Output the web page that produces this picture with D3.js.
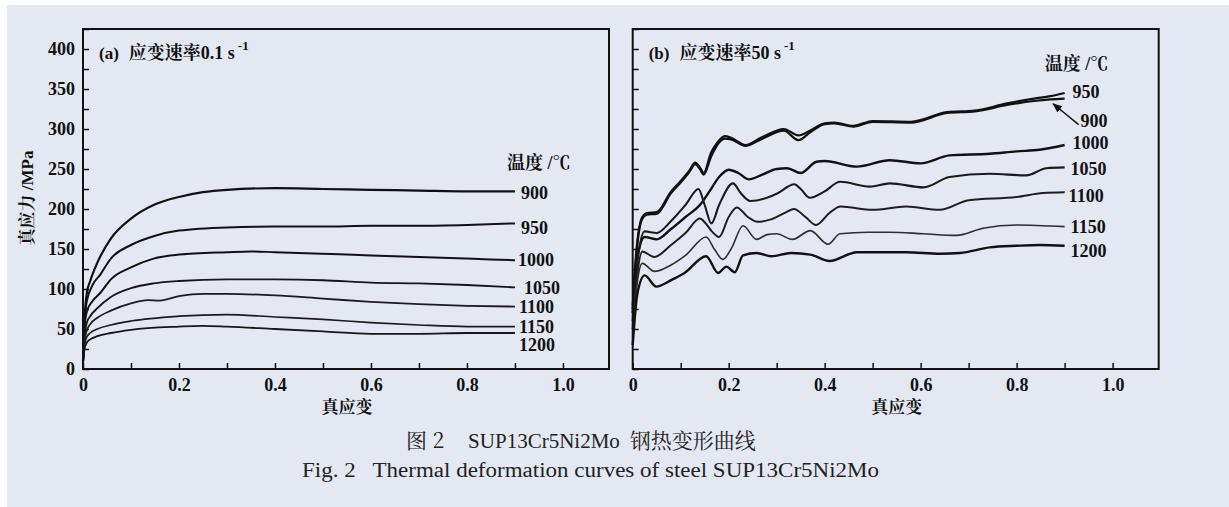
<!DOCTYPE html>
<html>
<head>
<meta charset="utf-8">
<script src="https://cdn.jsdelivr.net/npm/d3@7"></script>
<style>
  body { margin: 0; background: #fff; }
  svg { display: block; }
</style>
</head>
<body>
<svg id="chart" width="1229" height="507"></svg>
<script>
// ---- data (strain, stress MPa) ----
const temps = [900, 950, 1000, 1050, 1100, 1150, 1200]
const xTickLabels = [0, 0.2, 0.4, 0.6, 0.8, 1.0]
const yTickLabels = [0, 50, 100, 150, 200, 250, 300, 350, 400]

// (a) strain rate 0.1 s-1
const a900 = [[0,10],[0.003,60],[0.008,95],[0.015,110],[0.03,133],[0.058,163],[0.1,188],[0.147,205],[0.2,215],[0.25,221],[0.3,224],[0.4,226],[0.5,225],[0.6,224],[0.7,223],[0.8,222],[0.9,222]]
const a950 = [[0,10],[0.003,55],[0.008,85],[0.02,105],[0.036,118],[0.058,138],[0.1,155],[0.147,166],[0.2,173],[0.3,177],[0.4,178],[0.5,178],[0.6,179],[0.7,179],[0.8,180],[0.9,182]]
const a1000 = [[0,10],[0.003,50],[0.008,72],[0.02,85],[0.036,95],[0.058,112],[0.1,127],[0.147,138],[0.2,143],[0.3,146],[0.35,147],[0.4,146],[0.5,144],[0.6,142],[0.7,140],[0.8,138],[0.9,136]]
const a1050 = [[0,8],[0.003,40],[0.008,58],[0.015,66],[0.03,76],[0.058,90],[0.1,101],[0.147,107],[0.2,110],[0.3,112],[0.4,112],[0.5,111],[0.6,108],[0.7,107],[0.8,105],[0.9,102]]
const a1100 = [[0,8],[0.003,35],[0.008,48],[0.015,56],[0.03,64],[0.058,73],[0.1,82],[0.135,86],[0.16,85.5],[0.2,91],[0.25,94],[0.3,94],[0.4,92],[0.5,88],[0.6,84],[0.7,81],[0.8,79],[0.9,78]]
const a1150 = [[0,6],[0.003,30],[0.008,40],[0.015,45],[0.03,50],[0.058,55],[0.1,60],[0.2,66],[0.3,68],[0.4,65],[0.5,62],[0.6,58],[0.7,55],[0.8,53],[0.9,53]]
const a1200 = [[0,5],[0.003,25],[0.008,33],[0.015,37],[0.03,41],[0.058,45],[0.1,49],[0.2,53],[0.25,54],[0.3,53],[0.4,50],[0.5,47],[0.6,44],[0.7,44],[0.8,45],[0.9,45]]

// (b) strain rate 50 s-1
const b900 = [[0,75],[0.008,145],[0.02,188],[0.03,193],[0.05,194],[0.08,220],[0.1,233],[0.118,246],[0.13,256],[0.14,250],[0.148,243],[0.163,265],[0.175,279],[0.192,288],[0.205,287],[0.235,279],[0.267,287],[0.315,298],[0.345,286],[0.37,296],[0.4,306],[0.42,307],[0.46,303],[0.5,309],[0.58,308],[0.655,320],[0.713,322],[0.78,330],[0.836,335],[0.87,337],[0.9,338]]
const b950 = [[0,80],[0.008,150],[0.02,190],[0.03,195],[0.05,196],[0.08,222],[0.1,235],[0.118,248],[0.13,258],[0.14,252],[0.148,245],[0.163,270],[0.175,282],[0.192,291],[0.205,289],[0.235,280],[0.267,289],[0.315,300],[0.345,292],[0.37,298],[0.4,307],[0.42,308],[0.46,304],[0.5,310],[0.58,309],[0.655,321],[0.713,323],[0.78,332],[0.836,338],[0.87,341],[0.9,345]]
const b1000 = [[0,70],[0.01,140],[0.025,165],[0.05,162],[0.08,175],[0.11,190],[0.14,205],[0.16,222],[0.18,240],[0.2,249],[0.22,245],[0.242,237],[0.27,243],[0.3,250],[0.322,251],[0.35,245],[0.383,259],[0.4,260],[0.467,253],[0.536,261],[0.6,257],[0.66,267],[0.744,269],[0.8,272],[0.848,274],[0.9,280]]
const b1050 = [[0,60],[0.01,135],[0.025,172],[0.05,170],[0.08,185],[0.11,205],[0.137,225],[0.15,205],[0.164,182],[0.18,205],[0.209,232],[0.225,220],[0.245,210],[0.28,214],[0.3,219],[0.337,231],[0.35,225],[0.369,214],[0.4,222],[0.432,234],[0.494,228],[0.536,232],[0.606,227],[0.66,240],[0.744,244],[0.82,242],[0.862,251],[0.9,252]]
const b1100 = [[0,50],[0.01,120],[0.02,147],[0.045,140],[0.08,155],[0.11,170],[0.14,188],[0.152,182],[0.165,172],[0.18,165],[0.2,190],[0.217,202],[0.24,190],[0.26,184],[0.288,187],[0.32,196],[0.336,200],[0.36,190],[0.382,180],[0.41,195],[0.433,203],[0.5,199],[0.57,203],[0.64,199],[0.7,211],[0.8,215],[0.855,220],[0.9,221]]
const b1150 = [[0,40],[0.01,110],[0.02,132],[0.045,122],[0.08,130],[0.11,142],[0.153,165],[0.17,150],[0.188,137],[0.205,150],[0.23,179],[0.258,162],[0.28,168],[0.3,169],[0.333,162],[0.37,173],[0.407,156],[0.432,169],[0.49,171],[0.536,171],[0.606,169],[0.675,167],[0.73,176],[0.8,180],[0.9,178]]
const b1200 = [[0,30],[0.01,95],[0.025,117],[0.049,103],[0.08,111],[0.108,120],[0.153,141],[0.178,120],[0.195,128],[0.2125,121],[0.23,142],[0.258,145],[0.289,141],[0.33,145],[0.37,143],[0.41,135],[0.467,146],[0.57,146],[0.64,144],[0.682,145],[0.744,152],[0.8,154],[0.848,155],[0.9,154]]

const seriesA = [a900, a950, a1000, a1050, a1100, a1150, a1200]
const seriesB = [b900, b950, b1000, b1050, b1100, b1150, b1200]

// ---- layout ----
let width = 526
let height = 340
let serif = '"Liberation Serif", "Times New Roman", serif'
let cjk = '"Noto Serif CJK SC", "Noto Sans CJK SC", sans-serif'

let svg = d3.select('#chart')

svg.append('rect')
  .attr('x', 7).attr('y', 5)
  .attr('width', 1229).attr('height', 507)
  .attr('fill', '#e4e8f3')

let xScale = d3.scaleLinear().domain([0, 1.096]).range([0, width])
let yScale = d3.scaleLinear().domain([0, 425]).range([height, 0])

let line = d3.line()
  .x(d => xScale(d[0]))
  .y(d => yScale(d[1]))
  .curve(d3.curveMonotoneX)

function drawPanel(g, series, opts) {
  // x axis: ticks every 0.1, labels every 0.2
  let xAxis = d3.axisBottom(xScale)
    .tickValues(d3.range(0, 11).map(i => i / 10))
    .tickSize(-6)
    .tickPadding(9)
    .tickFormat(d => {
      let i = Math.round(d * 10)
      if (i % 2) return ''
      return i === 0 ? '0' : d3.format('.1f')(d)
    })
  g.append('g')
    .attr('transform', `translate(0,${height})`)
    .call(xAxis)
    .call(a => a.select('.domain').remove())
    .selectAll('text')
    .attr('font-family', serif)
    .attr('font-weight', 'bold')
    .attr('font-size', 18)
    .attr('fill', '#111')

  let yAxis = d3.axisLeft(yScale)
    .tickValues(d3.range(0, 426, 25))
    .tickSize(-6)
    .tickPadding(8)
    .tickFormat(d => (opts.yLabels && yTickLabels.includes(d)) ? d : '')
  g.append('g')
    .call(yAxis)
    .call(a => a.select('.domain').remove())
    .selectAll('text')
    .attr('font-family', serif)
    .attr('font-weight', 'bold')
    .attr('font-size', 18)
    .attr('fill', '#111')

  g.selectAll('.tick line').attr('stroke', '#111').attr('stroke-width', 1.5)

  // curves
  g.selectAll('.curve')
    .data(series)
    .enter()
    .append('path')
    .attr('class', 'curve')
    .attr('d', line)
    .attr('fill', 'none')
    .attr('stroke', (d, i) => opts.colors[i])
    .attr('stroke-width', (d, i) => opts.widths[i])
    .attr('stroke-linejoin', 'round')

  // frame
  g.append('rect')
    .attr('width', width)
    .attr('height', height)
    .attr('fill', 'none')
    .attr('stroke', '#111')
    .attr('stroke-width', 2)

  // curve labels
  g.selectAll('.lab')
    .data(series)
    .enter()
    .append('text')
    .attr('class', 'lab')
    .attr('x', (d, i) => xScale(d[d.length - 1][0]) + opts.labelDx[i])
    .attr('y', (d, i) => yScale(d[d.length - 1][1]) + opts.labelDy[i])
    .attr('dy', '0.35em')
    .attr('font-family', serif)
    .attr('font-weight', 'bold')
    .attr('font-size', 18)
    .attr('fill', '#111')
    .text((d, i) => temps[i])

  // legend heading
  let head = g.append('text')
    .attr('x', opts.headX)
    .attr('y', opts.headY)
    .attr('font-weight', 'bold')
    .attr('font-size', 18)
    .attr('fill', '#111')
  head.append('tspan').attr('font-family', cjk).text('温度')
  head.append('tspan').attr('font-family', serif).text(' /')
  head.append('tspan').attr('font-family', cjk).text('℃')

  // panel title
  let title = g.append('text')
    .attr('x', 16)
    .attr('y', 30)
    .attr('font-weight', 'bold')
    .attr('fill', '#111')
  title.append('tspan').attr('font-family', serif).attr('font-size', 17).text(opts.tag)
  title.append('tspan').attr('font-family', cjk).attr('font-size', 18).attr('dx', 10).text('应变速率')
  title.append('tspan').attr('font-family', serif).attr('font-size', 18).text(opts.rate + ' s')
  title.append('tspan').attr('font-family', serif).attr('font-size', 13).attr('dx', 3).attr('dy', -9).text('-1')

  // x axis title
  g.append('text')
    .attr('x', xScale(0.55))
    .attr('y', height + 44)
    .attr('text-anchor', 'middle')
    .attr('font-family', cjk)
    .attr('font-weight', 'bold')
    .attr('font-size', 17)
    .attr('fill', '#111')
    .text('真应变')
}

let gA = svg.append('g').attr('transform', 'translate(83,29)')
drawPanel(gA, seriesA, {
  yLabels: true,
  colors: ['#111', '#111', '#111', '#161616', '#1c1c1c', '#1c1c1c', '#161616'],
  widths: [2.2, 2, 2, 1.9, 1.8, 1.7, 1.8],
  labelDx: [6, 6, 3, 9, 4, 4, 4],
  labelDy: [1, 4, -1, 0, 0, 0, 12],
  headX: 424, headY: 140,
  tag: '(a)', rate: '0.1'
})

let gB = svg.append('g').attr('transform', 'translate(632.7,29)')
drawPanel(gB, seriesB, {
  yLabels: false,
  colors: ['#111', '#111', '#111', '#1a1a1a', '#1e1e1e', '#2e2e2e', '#111'],
  widths: [2.2, 2.2, 2.4, 2.1, 2, 1.6, 2.4],
  labelDx: [16, 8, 8, 6, 4, 6, 6],
  labelDy: [22, -1, -2, 1, 3, 0, 5],
  headX: 412, headY: 41,
  tag: '(b)', rate: '50'
})

// arrow from the 900 label to its curve
svg.append('defs').append('marker')
  .attr('id', 'arrow')
  .attr('viewBox', '0 0 10 10')
  .attr('refX', 9).attr('refY', 5)
  .attr('markerWidth', 7).attr('markerHeight', 7)
  .attr('orient', 'auto')
  .append('path')
  .attr('d', 'M0,1 L10,5 L0,9 Z')
  .attr('fill', '#111')

let lastB900 = b900[b900.length - 1]
gB.append('line')
  .attr('x1', xScale(lastB900[0]) + 14)
  .attr('y1', yScale(lastB900[1]) + 26)
  .attr('x2', xScale(0.876))
  .attr('y2', yScale(334) + 2)
  .attr('stroke', '#111')
  .attr('stroke-width', 1.4)
  .attr('marker-end', 'url(#arrow)')

// y axis title
let yTitle = svg.append('text')
  .attr('transform', 'translate(33,198) rotate(-90)')
  .attr('text-anchor', 'middle')
  .attr('font-weight', 'bold')
  .attr('font-size', 17)
  .attr('fill', '#111')
yTitle.append('tspan').attr('font-family', cjk).text('真应力')
yTitle.append('tspan').attr('font-family', serif).text(' /MPa')

// caption
let cap1 = svg.append('text')
  .attr('x', 406).attr('y', 448)
  .attr('font-size', 21)
  .attr('fill', '#222')
cap1.append('tspan').attr('font-family', cjk).text('图 2')
cap1.append('tspan').attr('font-family', serif).attr('dx', 24).text('SUP13Cr5Ni2Mo')
cap1.append('tspan').attr('font-family', cjk).attr('dx', 10).text('钢热变形曲线')

svg.append('text')
  .attr('x', 302).attr('y', 477)
  .attr('textLength', 577)
  .attr('lengthAdjust', 'spacingAndGlyphs')
  .attr('font-family', serif)
  .attr('font-size', 20)
  .attr('fill', '#222')
  .style('white-space', 'pre')
  .text('Fig. 2   Thermal deformation curves of steel SUP13Cr5Ni2Mo')
</script>
</body>
</html>
